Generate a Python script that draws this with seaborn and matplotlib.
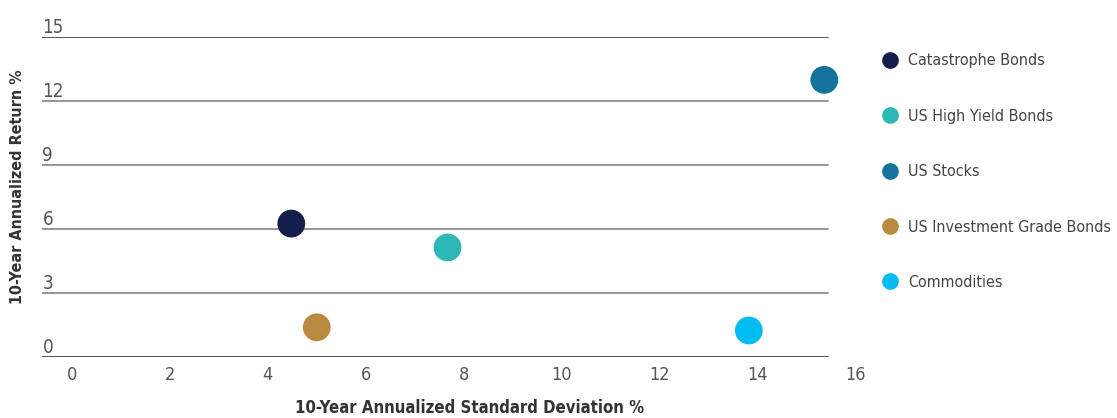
import pandas as pd
import matplotlib.pyplot as plt
import seaborn as sns
from matplotlib.lines import Line2D
import matplotlib.transforms as mtransforms

# Data
assets = ['Catastrophe Bonds', 'US High Yield Bonds', 'US Stocks',
          'US Investment Grade Bonds', 'Commodities']
std_dev = [4.48, 7.67, 15.36, 5.0, 13.82]
returns = [6.25, 5.13, 13.0, 1.38, 1.23]
colors = ['#141E4A', '#2EB8B5', '#13729E', '#B98B40', '#00BCF0']

x_ticks = [0, 2, 4, 6, 8, 10, 12, 14, 16]
y_ticks = [0, 3, 6, 9, 12, 15]

df = pd.DataFrame({'asset': assets, 'sd': std_dev, 'ret': returns})
palette = dict(zip(assets, colors))

sns.set_style('white')
plt.rcParams['font.family'] = ['DejaVu Sans']
plt.rcParams['font.stretch'] = 'condensed'

fig = plt.figure(figsize=(11.17, 4.18), dpi=100)
ax = fig.add_axes([0.038, 0.1467, 0.728, 0.7641])

# gridlines (stop a little short of the right edge, as in the original)
for v in y_ticks:
    col = '#444444' if v in (0, 15) else '#8c8c8c'
    ax.axhline(v, xmin=0, xmax=0.966, color=col, lw=1.3, zorder=0)

sns.scatterplot(data=df, x='sd', y='ret', hue='asset', palette=palette,
                s=400, linewidth=0, legend=False, ax=ax, zorder=3)

ax.set_xlim(-0.6, 16)
ax.set_ylim(0, 15)
ax.set_xticks(x_ticks)
ax.set_xticklabels([str(t) for t in x_ticks], fontsize=13, color='#555555')
ax.set_yticks([])
ax.tick_params(axis='x', length=0, pad=7)
for s in ax.spines.values():
    s.set_visible(False)

# y tick labels sit just above each gridline, at the far left
trans = mtransforms.blended_transform_factory(ax.transAxes, ax.transData)
for v in y_ticks:
    ax.text(0.0, v, str(v), transform=trans, ha='left', va='bottom',
            fontsize=13.5, color='#555555')

ax.set_xlabel('')
ax.set_ylabel('')
fig.text(18 / 1117, 1 - 187 / 418, '10-Year Annualized Return %', rotation=90,
         ha='center', va='center', fontsize=11.5, fontweight='bold', color='#333333')
fig.text(470 / 1117, 1 - 408 / 418, '10-Year Annualized Standard Deviation %',
         ha='center', va='center', fontsize=12, fontweight='bold', color='#333333')

handles = [Line2D([0], [0], marker='o', linestyle='', markersize=12,
                  markerfacecolor=c, markeredgewidth=0) for c in colors]
fig.legend(handles, assets, loc='upper left', bbox_to_anchor=(876 / 1117, 1 - 47 / 418),
           frameon=False, fontsize=11.5, labelspacing=2.53, handletextpad=0.6,
           handlelength=1.0, labelcolor='#444444', borderaxespad=0)

fig.savefig('out.png', dpi=100)
